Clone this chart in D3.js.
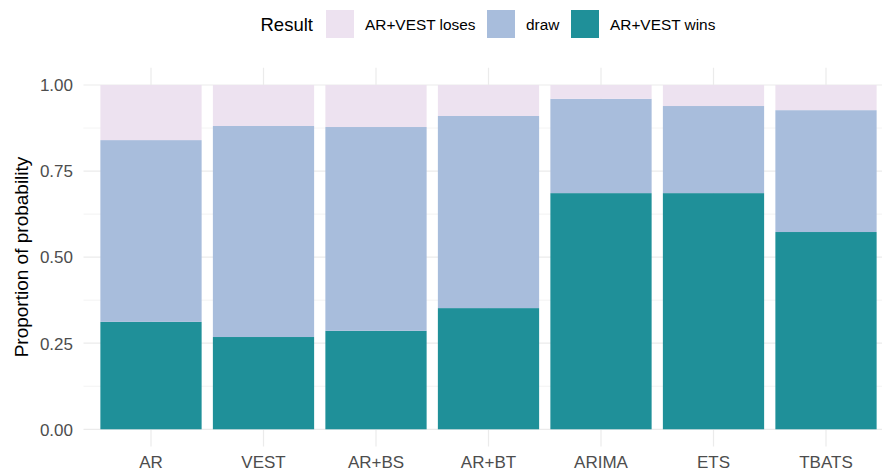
<!DOCTYPE html>
<html>
<head>
<meta charset="utf-8">
<script src="https://cdn.jsdelivr.net/npm/d3@7"></script>
<style>
  body { margin: 0; background: #fff; }
  text { font-family: "Liberation Sans", Arial, sans-serif; }
</style>
</head>
<body>
<svg width="882" height="475"></svg>
<script>
const models = ["AR", "VEST", "AR+BS", "AR+BT", "ARIMA", "ETS", "TBATS"];
const wins = [0.312, 0.268, 0.286, 0.352, 0.686, 0.686, 0.573];
const draws = [0.528, 0.613, 0.592, 0.558, 0.274, 0.253, 0.354];
const loses = [0.160, 0.119, 0.122, 0.090, 0.040, 0.061, 0.073];
const results = ["AR+VEST loses", "draw", "AR+VEST wins"];
const colors = ["#EDE2F0", "#A8BDDC", "#1F9099"];
const yTicks = [0, 0.25, 0.5, 0.75, 1];
const yMinor = [0.125, 0.375, 0.625, 0.875];

const svg = d3.select('svg');

const panelTop = 67.8, panelBottom = 446.5;
const panelLeft = 83.5, panelRight = 893.5;
const yScale = d3.scaleLinear().domain([-0.05, 1.05]).range([panelBottom, panelTop]);
const xScale = d3.scaleBand().domain(models).range([panelLeft, panelRight])
    .paddingInner(0.1).paddingOuter(0.15);
const mid = d => xScale(d) + xScale.bandwidth() / 2;

// grid
const grid = svg.append('g');
grid.selectAll('.minor').data(yMinor).enter().append('line')
    .attr('x1', panelLeft).attr('x2', panelRight)
    .attr('y1', d => yScale(d)).attr('y2', d => yScale(d))
    .attr('stroke', '#EBEBEB').attr('stroke-width', 0.6);
grid.selectAll('.major').data(yTicks).enter().append('line')
    .attr('x1', panelLeft).attr('x2', panelRight)
    .attr('y1', d => yScale(d)).attr('y2', d => yScale(d))
    .attr('stroke', '#EBEBEB').attr('stroke-width', 1.2);
grid.selectAll('.vmajor').data(models).enter().append('line')
    .attr('x1', mid).attr('x2', mid)
    .attr('y1', panelTop).attr('y2', panelBottom)
    .attr('stroke', '#EBEBEB').attr('stroke-width', 1.2);

// stacked bars (wins at bottom, then draw, then loses)
const table = models.map((m, i) => ({
  model: m,
  "AR+VEST wins": wins[i],
  "draw": draws[i],
  "AR+VEST loses": loses[i],
}));
const stack = d3.stack().keys(["AR+VEST wins", "draw", "AR+VEST loses"]);
const color = d3.scaleOrdinal().domain(results).range(colors);

svg.append('g').selectAll('g')
    .data(stack(table))
    .enter().append('g')
    .attr('fill', d => color(d.key))
    .selectAll('rect')
    .data(d => d)
    .enter().append('rect')
    .attr('x', d => xScale(d.data.model))
    .attr('width', xScale.bandwidth())
    .attr('y', d => yScale(d[1]))
    .attr('height', d => yScale(d[0]) - yScale(d[1]));

// y axis labels
svg.append('g').selectAll('text')
    .data(yTicks).enter().append('text')
    .attr('x', 73)
    .attr('y', d => yScale(d) + 6.3)
    .attr('text-anchor', 'end')
    .attr('fill', '#4D4D4D')
    .style('font-size', '17px')
    .text(d => d3.format('.2f')(d));

// x axis labels
svg.append('g').selectAll('text')
    .data(models).enter().append('text')
    .attr('x', mid)
    .attr('y', 468)
    .attr('text-anchor', 'middle')
    .attr('fill', '#4D4D4D')
    .style('font-size', '17px')
    .text(d => d);

// y title
svg.append('text')
    .attr('transform', 'translate(27.5, 257) rotate(-90)')
    .attr('text-anchor', 'middle')
    .style('font-size', '19px')
    .attr('fill', '#000')
    .text('Proportion of probability');

// legend
const legend = svg.append('g');
legend.append('text')
    .attr('x', 260.5).attr('y', 30.5)
    .style('font-size', '18.5px')
    .text('Result');
const keyX = [326, 487, 571];
results.forEach((r, i) => {
  legend.append('rect')
      .attr('x', keyX[i]).attr('y', 10)
      .attr('width', 28).attr('height', 28)
      .attr('fill', color(r));
  legend.append('text')
      .attr('x', keyX[i] + 39).attr('y', 30.3)
      .style('font-size', '15.4px')
      .text(r);
});
</script>
</body>
</html>
